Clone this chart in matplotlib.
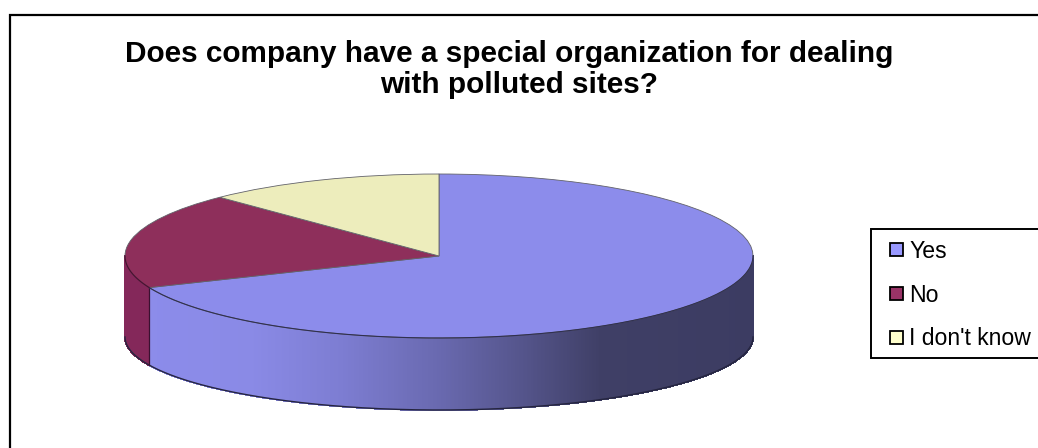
import numpy as np
import matplotlib
matplotlib.use("Agg")
import matplotlib.pyplot as plt
from matplotlib.patches import Patch, Rectangle
from matplotlib.collections import PolyCollection
from matplotlib.colors import to_rgb

categories = ["Yes", "No", "I don't know"]
values = [68.7, 19.0, 12.3]
title_lines = ["Does company have a special organization for dealing", "with polluted sites?"]

W, H = 1038, 448
top_colors = ["#8C8CEB", "#8E2F5B", "#EDEDBC"]
legend_colors = ["#9999FF", "#993366", "#FFFFCC"]
plt.rcParams["font.family"] = "Liberation Sans"

fig = plt.figure(figsize=(W / 100, H / 100), dpi=100, facecolor="white")

def px_rect(x0, y0, x1, y1):
    return [x0 / W, 1 - y1 / H, (x1 - x0) / W, (y1 - y0) / H]

# outer chart frame
fig.add_artist(Rectangle((10 / W, -0.05), 1.1, 1.05 - 15.5 / H, transform=fig.transFigure,
                         fill=False, edgecolor="black", linewidth=1.6))

cx, cy, rx, ry = 439, 256, 314, 82
ax = fig.add_axes(px_rect(cx - rx, cy - ry, cx + rx, cy + ry))
wedges, _ = ax.pie(values, colors=top_colors, startangle=90, counterclock=False, radius=1,
                   wedgeprops=dict(edgecolor="#62626A", linewidth=0.6, zorder=5))
ax.set_aspect("auto")
ax.set_xlim(-1, 1)
ax.set_ylim(-1, 1)
for w in wedges:
    w.set_clip_on(False)

# front side of the disc
bottom_cy, bottom_ry = 337, 73
boundaries = 360 * np.cumsum(values) / np.sum(values)
stops_x = np.array([125, 250, 340, 439, 520, 600, 753])
stops_c = np.array([[140, 140, 235], [138, 138, 230], [125, 125, 210], [105, 105, 175],
                    [85, 85, 140], [63, 63, 102], [60, 60, 98]]) / 255

def to_ax(xp, yp):
    return (xp - cx) / rx, (cy - yp) / ry

def ring(t):
    r = np.radians(t)
    xp = cx + rx * np.sin(r)
    return xp, cy - ry * np.cos(r), bottom_cy - bottom_ry * np.cos(r)

polys, cols = [], []
ts = np.arange(90, 270.01, 0.25)
for a, b in zip(ts[:-1], ts[1:]):
    xa, ya, ba = ring(a)
    xb, yb, bb = ring(b)
    polys.append([to_ax(xa, ya), to_ax(xb, yb), to_ax(xb, bb), to_ax(xa, ba)])
    m = (a + b) / 2
    if m < boundaries[0]:
        xm = (xa + xb) / 2
        cols.append([np.interp(xm, stops_x, stops_c[:, i]) for i in range(3)])
    else:
        cols.append(to_rgb("#84285A"))
side = PolyCollection(polys, facecolors=cols, edgecolors=cols, linewidths=0.8,
                      antialiaseds=False, zorder=2)
side.set_clip_on(False)
ax.add_collection(side)

# dark edges of the side
xs, ya, ba = ring(ts)
ax.plot(*to_ax(xs, ba), color="#25253F", lw=1.0, zorder=3, clip_on=False)
tcut = boundaries[0]
xc, yc, bc = ring(tcut)
ax.plot(*to_ax(np.array([xc, xc]), np.array([yc, bc])), color="#3A1030", lw=0.9, zorder=3, clip_on=False)
mask = ts <= tcut
ax.plot(*to_ax(xs[mask], ya[mask]), color="#30304F", lw=0.8, zorder=6, clip_on=False)
ax.plot(*to_ax(xs[~mask], ya[~mask]), color="#4A1030", lw=0.9, zorder=6, clip_on=False)

# title
fig.text(509 / W, 1 - 54 / H, title_lines[0], ha="center", va="center", fontsize=21.4, fontweight="bold")
fig.text(519 / W, 1 - 85 / H, title_lines[1], ha="center", va="center", fontsize=21.4, fontweight="bold")

# legend
fig.add_artist(Rectangle((870.5 / W, 1 - 358 / H), 200 / W, 129 / H, transform=fig.transFigure,
                         facecolor="white", edgecolor="black", linewidth=1.4, zorder=8))
handles = [Patch(facecolor=c, edgecolor="black", linewidth=1.3) for c in legend_colors]
leg = fig.legend(handles, categories, loc="center left", bbox_to_anchor=(890 / W, 1 - 295 / H),
                 frameon=False, fontsize=16.6, handlelength=0.57, handleheight=0.5,
                 handletextpad=0.26, labelspacing=0.91, borderpad=0, borderaxespad=0)
leg.set_zorder(9)

fig.savefig("out.png", dpi=100, facecolor="white")
